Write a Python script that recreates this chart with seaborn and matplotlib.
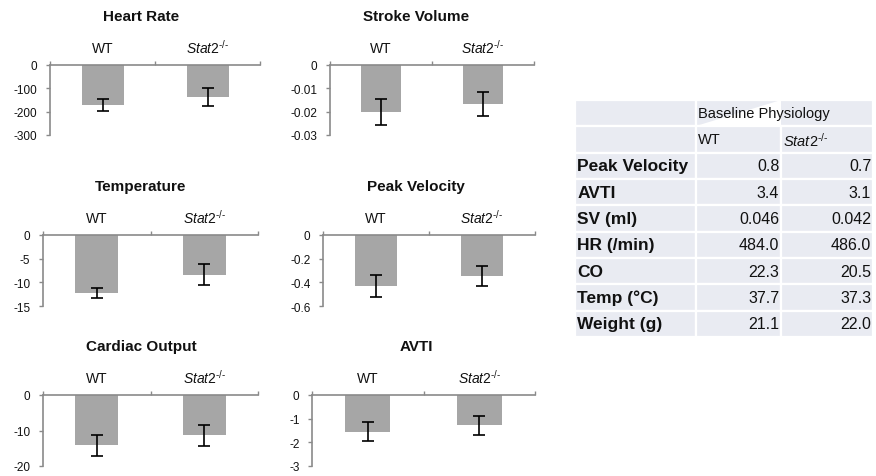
import numpy as np
import pandas as pd
import matplotlib
matplotlib.use("Agg")
import matplotlib.pyplot as plt
import seaborn as sns

# group labels
KO = r"$\mathit{Stat2}^{\mathit{\text{-/-}}}$"
groups = ["WT", KO]

# change from baseline, mean and error per group
hr_mean = [-172, -137]
hr_err = [25, 40]
sv_mean = [-0.0203, -0.0167]
sv_err = [0.0056, 0.0051]
temp_mean = [-12.3, -8.4]
temp_err = [1.0, 2.2]
pv_mean = [-0.43, -0.345]
pv_err = [0.095, 0.083]
co_mean = [-14.2, -11.35]
co_err = [2.9, 2.95]
avti_mean = [-1.55, -1.28]
avti_err = [0.4, 0.41]

hr_ticks = [0, -100, -200, -300]
hr_labels = ["0", "-100", "-200", "-300"]
sv_ticks = [0, -0.01, -0.02, -0.03]
sv_labels = ["0", "-0.01", "-0.02", "-0.03"]
temp_ticks = [0, -5, -10, -15]
temp_labels = ["0", "-5", "-10", "-15"]
pv_ticks = [0, -0.2, -0.4, -0.6]
pv_labels = ["0", "-0.2", "-0.4", "-0.6"]
co_ticks = [0, -10, -20]
co_labels = ["0", "-10", "-20"]
avti_ticks = [0, -1, -2, -3]
avti_labels = ["0", "-1", "-2", "-3"]

# baseline table
row_names = ["Peak Velocity", "AVTI", "SV (ml)", "HR (/min)", "CO", "Temp (°C)", "Weight (g)"]
wt_vals = ["0.8", "3.4", "0.046", "484.0", "22.3", "37.7", "21.1"]
ko_vals = ["0.7", "3.1", "0.042", "486.0", "20.5", "37.3", "22.0"]

sns.set_theme(style="white")
plt.rcParams["font.family"] = ["Liberation Sans", "DejaVu Sans"]
plt.rcParams["mathtext.fontset"] = "custom"
plt.rcParams["mathtext.rm"] = "Liberation Sans"
plt.rcParams["mathtext.it"] = "Liberation Sans:italic"
plt.rcParams["axes.unicode_minus"] = False

W, H = 876, 477
BAR = "#a6a6a6"
AXC = "#8a8a8a"
CELL = "#e9ebf2"

fig = plt.figure(figsize=(W / 100, H / 100), dpi=100)


def box(x0, y0, x1, y1):
    return [x0 / W, 1 - y1 / H, (x1 - x0) / W, (y1 - y0) / H]


panels = [
    ("Heart Rate", hr_mean, hr_err, hr_ticks, hr_labels, (50, 66, 260, 136), (141, 17)),
    ("Stroke Volume", sv_mean, sv_err, sv_ticks, sv_labels, (330, 66, 534, 136), (416, 17)),
    ("Temperature", temp_mean, temp_err, temp_ticks, temp_labels, (43, 236, 258, 307), (141, 187)),
    ("Peak Velocity", pv_mean, pv_err, pv_ticks, pv_labels, (323, 236, 535, 307), (416, 187)),
    ("Cardiac Output", co_mean, co_err, co_ticks, co_labels, (43, 396, 258, 467), (141, 347)),
    ("AVTI", avti_mean, avti_err, avti_ticks, avti_labels, (312, 396, 535, 467), (416, 347)),
]

for title, mean, err, ticks, tlabels, pos, tpos in panels:
    ax = fig.add_axes(box(*pos))
    df = pd.DataFrame({"group": groups, "value": mean})
    sns.barplot(data=df, x="group", y="value", order=groups, color=BAR,
                saturation=1, width=0.4, errorbar=None, ax=ax, linewidth=0)
    ax.errorbar([0, 1], mean, yerr=err, fmt="none", ecolor="black",
                elinewidth=1.2, capsize=4, capthick=1.2)
    ax.set_xlabel("")
    ax.set_ylabel("")
    ax.set_xlim(-0.5, 1.5)
    ax.set_ylim(ticks[-1], 0)
    ax.set_yticks(ticks)
    ax.set_yticklabels(tlabels)
    ax.xaxis.tick_top()
    ax.set_xticks([0, 1])
    ax.set_xticklabels(groups)
    ax.set_xticks([-0.5, 0.5, 1.5], minor=True)
    ax.tick_params(axis="x", which="major", top=True, bottom=False, length=0,
                   pad=7, labelsize=10, labelcolor="#111111")
    ax.tick_params(axis="x", which="minor", top=True, bottom=False, length=3,
                   width=1, color=AXC, direction="out")
    ax.tick_params(axis="y", left=True, length=3, width=1, color=AXC,
                   direction="out", pad=6, labelsize=8.5, labelcolor="#111111")
    for side in ["bottom", "right"]:
        ax.spines[side].set_visible(False)
    for side in ["top", "left"]:
        ax.spines[side].set_color(AXC)
        ax.spines[side].set_linewidth(1.2)
    ax.set_facecolor("none")
    fig.text(tpos[0] / W, 1 - tpos[1] / H, title, ha="center", va="center",
             fontsize=11, fontweight="bold", color="#111111")

# table on the right
tax = fig.add_axes(box(575, 101, 873, 338))
tax.axis("off")
col_w = [121 / 298, 85 / 298, 92 / 298]
cells = [["", "", ""], ["", "WT", KO]]
for name, a, b in zip(row_names, wt_vals, ko_vals):
    cells.append([name, a, b])
tab = tax.table(cellText=cells, cellLoc="right", bbox=[0, 0, 1, 1],
                colWidths=col_w)
tab.auto_set_font_size(False)
for (r, c), cell in tab.get_celld().items():
    cell.set_facecolor(CELL)
    cell.set_edgecolor("white")
    cell.set_linewidth(1.6)
    cell.PAD = 0.02
    txt = cell.get_text()
    txt.set_color("#111111")
    if r < 2 or c == 0:
        cell._loc = "left"
        txt.set_ha("left")
    if c == 0:
        txt.set_fontsize(12.5)
        txt.set_fontweight("bold")
    elif r < 2:
        txt.set_fontsize(10.5)
    else:
        txt.set_fontsize(11.5)
tab[0, 1].visible_edges = "BTL"
tab[0, 2].visible_edges = "BTR"
# merged header spanning both group columns
tax.text(col_w[0] + 0.008, 1 - 0.5 / 9, "Baseline Physiology", ha="left",
         va="center", fontsize=10.5, color="#111111", zorder=5)

fig.savefig("out.png", dpi=100)
